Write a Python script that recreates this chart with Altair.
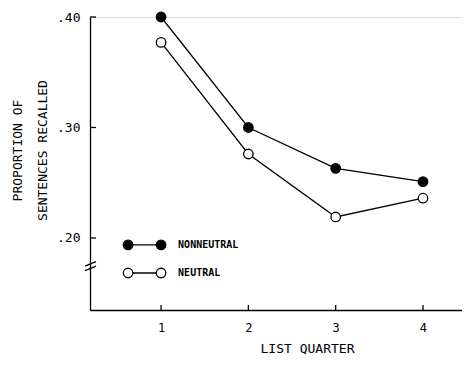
import altair as alt
import pandas as pd

quarters = [1, 2, 3, 4]
nonneutral = [0.400, 0.300, 0.263, 0.251]
neutral = [0.377, 0.276, 0.219, 0.236]
series_names = ["NONNEUTRAL", "NEUTRAL"]
y_ticks = [0.20, 0.30, 0.40]
x_ticks = [1, 2, 3, 4]

FONT = "DejaVu Sans Mono"
W, H = 372, 293
XD = [0.186, 4.447]
YD = [0.1348, 0.40]

rows = []
for q, v in zip(quarters, nonneutral):
    rows.append({"q": q, "p": v, "s": series_names[0]})
for q, v in zip(quarters, neutral):
    rows.append({"q": q, "p": v, "s": series_names[1]})
df = pd.DataFrame(rows)

xs = alt.Scale(domain=XD, nice=False, zero=False)
ys = alt.Scale(domain=YD, nice=False, zero=False)

base = alt.Chart(df)
lines = base.mark_line(color="black", strokeWidth=1.3, clip=False).encode(
    x=alt.X("q:Q", scale=xs, axis=alt.Axis(values=x_ticks, format="d", ticks=False, grid=False,
            domainColor="black", domainWidth=1.3, labelFont=FONT, labelFontSize=12,
            labelColor="black", labelPadding=12, title="LIST QUARTER",
            titleFont=FONT, titleFontSize=13, titleFontWeight="normal", titleColor="black",
            titlePadding=9, titleX=217, labelFlush=False)),
    y=alt.Y("p:Q", scale=ys, axis=alt.Axis(values=y_ticks, ticks=False, grid=False,
            domainColor="black", domainWidth=1.3,
            labelExpr="replace(format(datum.value, '.2f'), '0.', '.')",
            labelFont=FONT, labelFontSize=13, labelColor="black", labelPadding=10,
            title=["PROPORTION OF", "SENTENCES RECALLED"], titleFont=FONT,
            titleFontSize=13, titleFontWeight="normal", titleColor="black",
            titleLineHeight=25, titleX=-66, titleY=133, titleAnchor="middle")),
    detail="s:N",
)
points = base.mark_point(size=90, stroke="black", strokeWidth=1.3, opacity=1, clip=False).encode(
    x=alt.X("q:Q", scale=xs),
    y=alt.Y("p:Q", scale=ys),
    fill=alt.Fill("s:N", scale=alt.Scale(domain=series_names, range=["black", "white"]), legend=None),
)

# inward ticks
ytick_df = pd.DataFrame({"p": y_ticks})
yt = alt.Chart(ytick_df).mark_rule(color="black", strokeWidth=1.3).encode(
    y=alt.Y("p:Q", scale=ys), x=alt.value(0), x2=alt.value(6))
xtick_df = pd.DataFrame({"q": x_ticks})
xt = alt.Chart(xtick_df).mark_rule(color="black", strokeWidth=1.3).encode(
    x=alt.X("q:Q", scale=xs), y=alt.value(H), y2=alt.value(H - 5))

# axis break
brk_df = pd.DataFrame({"y1": [0.1705, 0.1745], "y2": [0.1745, 0.1785]})
brk = alt.Chart(brk_df).mark_rule(color="black", strokeWidth=1.3).encode(
    y=alt.Y("y1:Q", scale=ys), y2="y2:Q", x=alt.value(-5), x2=alt.value(6))

# legend
leg_rows = [
    {"x": 0.622, "p": 0.1937, "s": series_names[0]},
    {"x": 1.0, "p": 0.1937, "s": series_names[0]},
    {"x": 0.622, "p": 0.1683, "s": series_names[1]},
    {"x": 1.0, "p": 0.1683, "s": series_names[1]},
]
ldf = pd.DataFrame(leg_rows)
lbase = alt.Chart(ldf)
lline = lbase.mark_line(color="black", strokeWidth=1.3).encode(
    x=alt.X("x:Q", scale=xs), y=alt.Y("p:Q", scale=ys), detail="s:N")
lpts = lbase.mark_point(size=90, stroke="black", strokeWidth=1.3, opacity=1).encode(
    x=alt.X("x:Q", scale=xs), y=alt.Y("p:Q", scale=ys),
    fill=alt.Fill("s:N", scale=alt.Scale(domain=series_names, range=["black", "white"]), legend=None))
ltxt_df = pd.DataFrame({"x": [1.195, 1.195], "p": [0.1937, 0.1683], "t": series_names})
ltxt = alt.Chart(ltxt_df).mark_text(align="left", baseline="middle", font=FONT,
                                    fontSize=10, fontWeight="bold", color="black").encode(
    x=alt.X("x:Q", scale=xs), y=alt.Y("p:Q", scale=ys), text="t:N")

chart = alt.layer(lines, yt, xt, brk, lline, points, lpts, ltxt).properties(
    width=W, height=H,
    autosize=alt.AutoSizeParams(type="none"),
    padding={"left": 82, "top": 9, "right": 0, "bottom": 48},
).configure_view(stroke=None).configure(background="white")

chart.save("out.html", embed_options={"renderer": "svg", "actions": False})
